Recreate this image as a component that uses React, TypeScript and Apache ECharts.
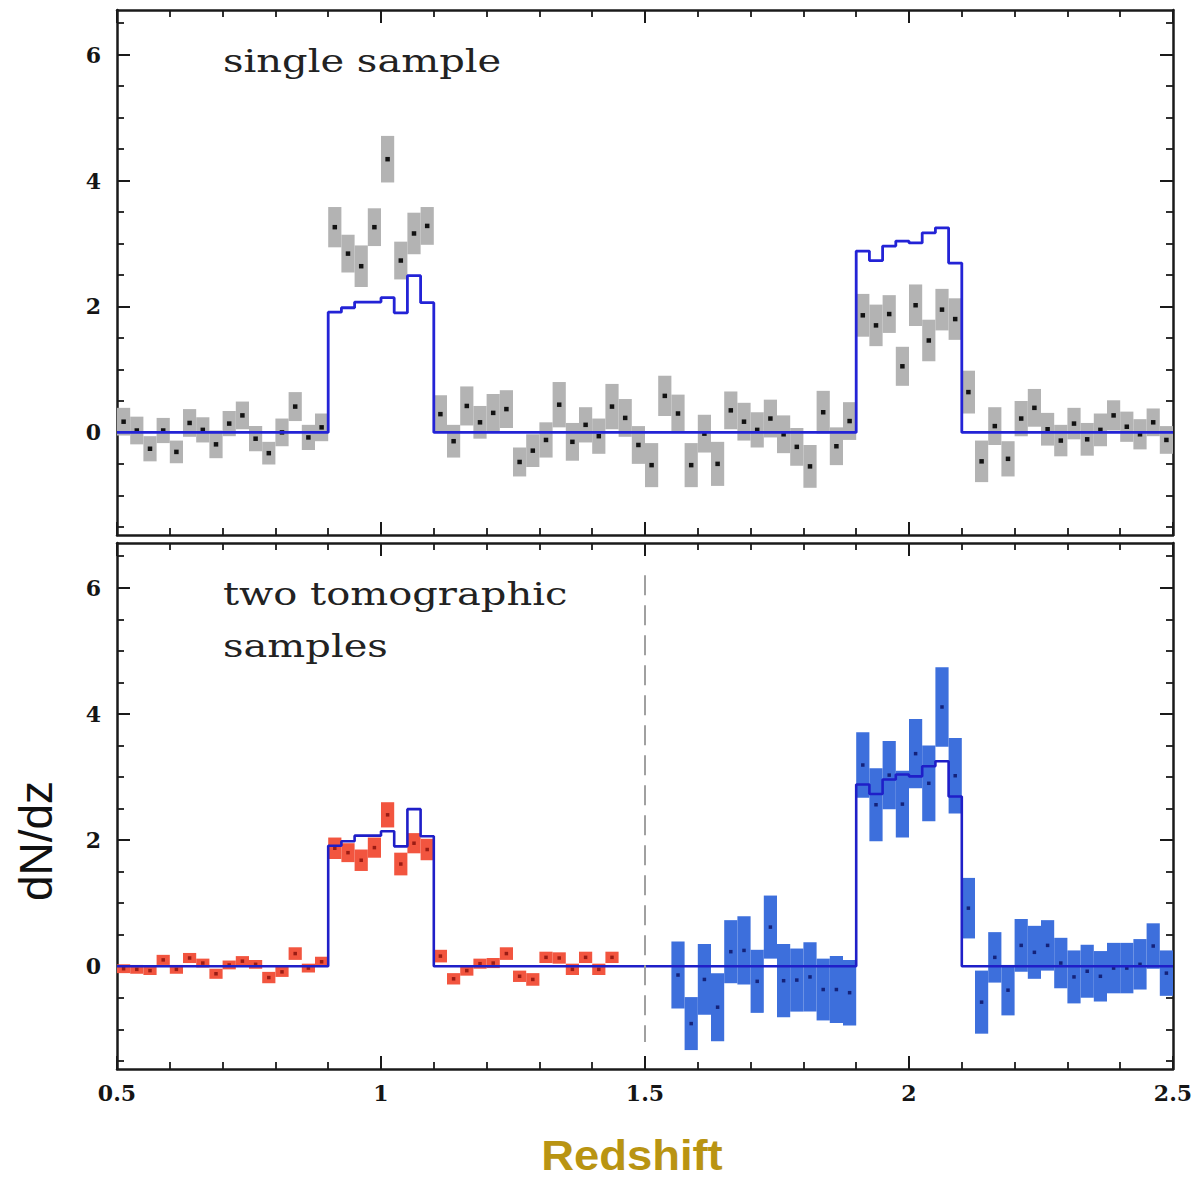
import React, { useEffect, useRef } from "react";
import * as echarts from "echarts";

// ---------- data ----------
const X_MIN = 0.5;
const X_MAX = 2.5;
const BIN_WIDTH = 0.025;
const Y_MIN = -1.63;
const Y_MAX = 6.71;

const xTickLabels = ["0.5", "1", "1.5", "2", "2.5"];
const yMajorTicks = [0, 2, 4, 6];
const yMinorTicks = [-1.5, -1, -0.5, 0.5, 1, 1.5, 2.5, 3, 3.5, 4.5, 5, 5.5, 6.5];

// model dN/dz per bin (80 bins of 0.025 from 0.5 to 2.5)
const modelValues = [
  0, 0, 0, 0, 0, 0, 0, 0, 0, 0, 0, 0, 0, 0, 0, 0,
  1.91, 1.98, 2.07, 2.07, 2.14, 1.9, 2.49, 2.06,
  0, 0, 0, 0, 0, 0, 0, 0, 0, 0, 0, 0, 0, 0, 0, 0,
  0, 0, 0, 0, 0, 0, 0, 0, 0, 0, 0, 0, 0, 0, 0, 0,
  2.88, 2.73, 2.96, 3.04, 3.01, 3.17, 3.25, 2.69,
  0, 0, 0, 0, 0, 0, 0, 0, 0, 0, 0, 0, 0, 0, 0, 0,
];

// top panel: single sample reconstruction
const singleValues = [
  0.17, 0.03, -0.26, 0.03, -0.31, 0.15, 0.04, -0.19, 0.14, 0.27, -0.1, -0.33, 0.0, 0.41, -0.08, 0.08,
  3.26, 2.84, 2.64, 3.26, 4.34, 2.73, 3.16, 3.28,
  0.29, -0.14, 0.42, 0.16, 0.31, 0.37, -0.47, -0.29, -0.12, 0.44, -0.15, 0.12, -0.06, 0.41, 0.23, -0.2,
  -0.52, 0.58, 0.3, -0.52, -0.02, -0.5, 0.35, 0.17, 0.04, 0.22, -0.03, -0.23, -0.54, 0.32, -0.22, 0.18,
  1.86, 1.7, 1.88, 1.05, 2.02, 1.46, 1.95, 1.8,
  0.64, -0.46, 0.1, -0.42, 0.22, 0.39, 0.05, -0.13, 0.14, -0.11, 0.04, 0.27, 0.09, -0.03, 0.16, -0.12,
];
const singleErrors = [
  0.22, 0.22, 0.2, 0.2, 0.18, 0.22, 0.2, 0.22, 0.2, 0.22, 0.2, 0.18, 0.22, 0.23, 0.2, 0.22,
  0.32, 0.3, 0.33, 0.3, 0.37, 0.3, 0.33, 0.3,
  0.3, 0.26, 0.31, 0.26, 0.3, 0.3, 0.23, 0.26, 0.28, 0.36, 0.3, 0.28, 0.28, 0.36, 0.3, 0.3,
  0.35, 0.32, 0.3, 0.35, 0.3, 0.35, 0.3, 0.3, 0.28, 0.3, 0.3, 0.3, 0.34, 0.34, 0.3, 0.3,
  0.34, 0.33, 0.3, 0.31, 0.33, 0.33, 0.33, 0.33,
  0.34, 0.33, 0.3, 0.28, 0.28, 0.3, 0.26, 0.25, 0.25, 0.26, 0.26, 0.24, 0.24, 0.24, 0.22, 0.22,
];

// bottom panel: low-z tomographic sample (bins 0..37)
const RED_FIRST_BIN = 0;
const redValues = [
  -0.04, -0.05, -0.07, 0.1, -0.05, 0.13, 0.05, -0.12, 0.02, 0.08, 0.03, -0.18, -0.09, 0.2, -0.03, 0.07,
  1.87, 1.8, 1.68, 1.88, 2.4, 1.62, 1.95, 1.85,
  0.16, -0.2, -0.07, 0.04, 0.05, 0.2, -0.16, -0.21, 0.14, 0.13, -0.05, 0.14, -0.05, 0.14,
];
const redErrors = [
  0.07, 0.07, 0.07, 0.08, 0.07, 0.08, 0.07, 0.08, 0.07, 0.08, 0.07, 0.09, 0.08, 0.1, 0.07, 0.08,
  0.17, 0.15, 0.17, 0.16, 0.2, 0.18, 0.16, 0.17,
  0.1, 0.09, 0.08, 0.08, 0.08, 0.1, 0.09, 0.1, 0.09, 0.09, 0.09, 0.09, 0.09, 0.09,
];

// bottom panel: high-z tomographic sample (bins 42..79)
const BLUE_FIRST_BIN = 42;
const blueValues = [
  -0.14, -0.91, -0.21, -0.65, 0.23, 0.25, -0.24, 0.62, -0.23, -0.22, -0.17, -0.37, -0.37, -0.42,
  3.19, 2.56, 3.03, 2.57, 3.37, 2.9, 4.11, 3.02,
  0.92, -0.57, 0.14, -0.38, 0.33, 0.22, 0.33, 0.05, -0.17, -0.08, -0.16, -0.03, -0.03, 0.03, 0.32, -0.11,
];
const blueErrors = [
  0.53, 0.42, 0.56, 0.54, 0.5, 0.54, 0.5, 0.5, 0.58, 0.5, 0.55, 0.49, 0.53, 0.52,
  0.52, 0.58, 0.54, 0.53, 0.55, 0.6, 0.63, 0.6,
  0.48, 0.5, 0.4, 0.4, 0.42, 0.42, 0.4, 0.4, 0.42, 0.42, 0.4, 0.4, 0.4, 0.4, 0.36, 0.36,
];

// ---------- helpers ----------
const binStart = (i: number) => X_MIN + BIN_WIDTH * i;

const boxData = (values: number[], errors: number[], firstBin: number) =>
  values.map((v, k) => [binStart(firstBin + k), binStart(firstBin + k + 1), v, errors[k]]);

const stepData = () => {
  const pts: number[][] = modelValues.map((v, i) => [binStart(i), v]);
  pts.push([X_MAX, modelValues[modelValues.length - 1]]);
  return pts;
};

const makeBoxRender = (fill: string, dot: string, dotSize: number) => (params: any, api: any) => {
  const x0 = api.value(0);
  const x1 = api.value(1);
  const v = api.value(2);
  const e = api.value(3);
  const tl = api.coord([x0, v + e]);
  const br = api.coord([x1, v - e]);
  const c = api.coord([(x0 + x1) / 2, v]);
  return {
    type: "group",
    children: [
      {
        type: "rect",
        shape: { x: tl[0], y: tl[1], width: br[0] - tl[0], height: br[1] - tl[1] },
        style: { fill },
      },
      {
        type: "rect",
        shape: { x: c[0] - dotSize / 2, y: c[1] - dotSize / 2, width: dotSize, height: dotSize },
        style: { fill: dot },
      },
    ],
  };
};

const AXIS_COLOR = "#1a1a1a";
const tickFont = { fontFamily: "DejaVu Serif", fontWeight: "bold" as const, fontSize: 22, color: "#151515" };

const makeX = (gridIndex: number, position: string, showLabel: boolean) => ({
  type: "value",
  gridIndex,
  position,
  min: X_MIN,
  max: X_MAX,
  interval: 0.5,
  axisLine: { show: true, onZero: false, lineStyle: { color: AXIS_COLOR, width: 2.5 } },
  axisTick: { show: true, inside: true, length: 13, lineStyle: { color: AXIS_COLOR, width: 2 } },
  minorTick: { show: true, splitNumber: 5, length: 7, lineStyle: { color: AXIS_COLOR, width: 1.8 } },
  axisLabel: {
    show: showLabel,
    margin: 13,
    ...tickFont,
    formatter: (v: number) => {
      const idx = Math.round((v - X_MIN) / 0.5);
      return xTickLabels[idx] ?? "";
    },
  },
  splitLine: { show: false },
  minorSplitLine: { show: false },
});

const makeY = (gridIndex: number, position: string, major: boolean, showLabel: boolean) => ({
  type: "value",
  gridIndex,
  position,
  min: Y_MIN,
  max: Y_MAX,
  axisLine: { show: major, onZero: false, lineStyle: { color: AXIS_COLOR, width: 2.5 } },
  axisTick: {
    show: true,
    inside: true,
    length: major ? 13 : 7,
    customValues: major ? yMajorTicks : yMinorTicks,
    lineStyle: { color: AXIS_COLOR, width: major ? 2 : 1.8 },
  },
  axisLabel: { show: showLabel, customValues: yMajorTicks, margin: 16, ...tickFont },
  splitLine: { show: false },
});

const panelText = (text: string, y: number) => ({
  type: "text",
  x: 223,
  y,
  scaleX: 1.25,
  style: {
    text,
    fontFamily: "DejaVu Serif",
    fontSize: 32,
    fill: "#222222",
    align: "left",
    verticalAlign: "middle",
  },
});

export default function App() {
  const ref = useRef<HTMLDivElement>(null);

  useEffect(() => {
    if (!ref.current) return;
    const chart = echarts.init(ref.current, null, { renderer: "svg" });

    const option: any = {
      animation: false,
      backgroundColor: "#ffffff",
      grid: [
        { left: 117, top: 10, width: 1056, height: 525, outerBoundsMode: "none", containLabel: false },
        { left: 117, top: 543, width: 1056, height: 526, outerBoundsMode: "none", containLabel: false },
      ],
      xAxis: [
        makeX(0, "bottom", false),
        makeX(0, "top", false),
        makeX(1, "bottom", true),
        makeX(1, "top", false),
      ],
      yAxis: [
        makeY(0, "left", true, true),
        makeY(0, "left", false, false),
        makeY(0, "right", true, false),
        makeY(0, "right", false, false),
        makeY(1, "left", true, true),
        makeY(1, "left", false, false),
        makeY(1, "right", true, false),
        makeY(1, "right", false, false),
      ],
      series: [
        {
          type: "custom",
          name: "single sample",
          xAxisIndex: 0,
          yAxisIndex: 0,
          z: 2,
          renderItem: makeBoxRender("#b3b3b3", "#111111", 4.5),
          encode: { x: [0, 1], y: 2 },
          data: boxData(singleValues, singleErrors, 0),
        },
        {
          type: "line",
          name: "model top",
          xAxisIndex: 0,
          yAxisIndex: 0,
          z: 3,
          step: "end",
          symbol: "none",
          lineStyle: { color: "#2323d6", width: 2.8 },
          data: stepData(),
        },
        {
          type: "custom",
          name: "low-z sample",
          xAxisIndex: 2,
          yAxisIndex: 4,
          z: 2,
          renderItem: makeBoxRender("#f2553f", "#9a1c14", 3.5),
          encode: { x: [0, 1], y: 2 },
          data: boxData(redValues, redErrors, RED_FIRST_BIN),
        },
        {
          type: "custom",
          name: "high-z sample",
          xAxisIndex: 2,
          yAxisIndex: 4,
          z: 2,
          renderItem: makeBoxRender("#3d6fdc", "#14227a", 3.5),
          encode: { x: [0, 1], y: 2 },
          data: boxData(blueValues, blueErrors, BLUE_FIRST_BIN),
        },
        {
          type: "line",
          name: "model bottom",
          xAxisIndex: 2,
          yAxisIndex: 4,
          z: 3,
          step: "end",
          symbol: "none",
          lineStyle: { color: "#1f1fc8", width: 2.6 },
          data: stepData(),
          markLine: {
            silent: true,
            symbol: "none",
            label: { show: false },
            lineStyle: { color: "#a0a0a0", width: 2, type: [20, 10] },
            data: [[{ coord: [1.5, 6.2] }, { coord: [1.5, -1.2] }]],
          },
        },
      ],
      graphic: [
        panelText("single sample", 61),
        panelText("two tomographic", 594),
        panelText("samples", 646),
        {
          type: "text",
          x: 36,
          y: 841,
          rotation: Math.PI / 2,
          style: {
            text: "dN/dz",
            fontFamily: "Liberation Sans",
            fontSize: 46,
            fill: "#111111",
            align: "center",
            verticalAlign: "middle",
          },
        },
        {
          type: "text",
          x: 632,
          y: 1155,
          scaleX: 1.08,
          style: {
            text: "Redshift",
            fontFamily: "Liberation Sans",
            fontWeight: "bold",
            fontSize: 42,
            fill: "#b99412",
            align: "center",
            verticalAlign: "middle",
          },
        },
      ],
    };

    chart.setOption(option);
    return () => chart.dispose();
  }, []);

  return (
    <div
      ref={ref}
      style={{ position: "absolute", left: 0, top: 0, width: 1198, height: 1179, background: "#fff" }}
    />
  );
}
